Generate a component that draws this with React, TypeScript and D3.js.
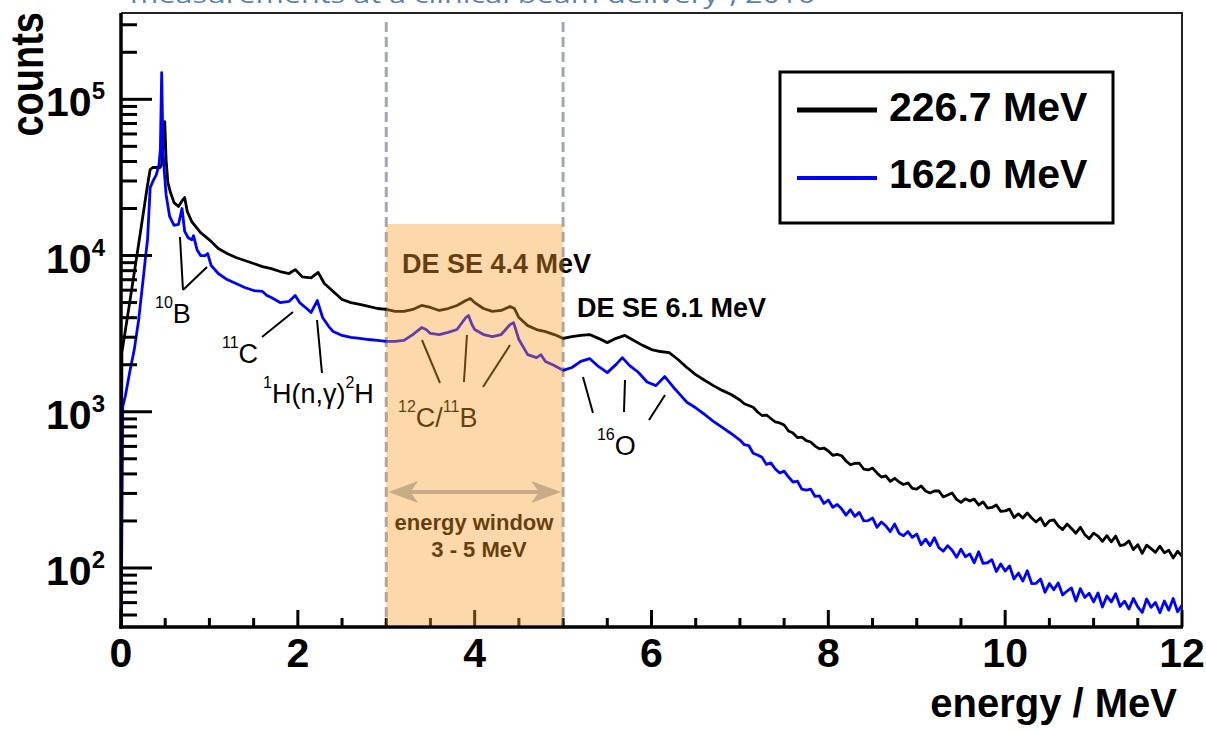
import React from 'react';
import * as d3 from 'd3';

const FONT = "'Liberation Sans', Arial, Helvetica, sans-serif";

// axis limits
const energyDomain: [number, number] = [0, 12];
const countsDomain: [number, number] = [41.9, 356800];

const xTickLabels = [0, 2, 4, 6, 8, 10, 12];
const yLabelExponents = [2, 3, 4, 5];

const seriesNames = ['226.7 MeV', '162.0 MeV'];
const seriesColors = ['#000000', '#0000ff'];

// [energy MeV, counts]
const spectrum2267: [number, number][] = [
  [0, 30], [0.01, 2390], [0.1, 5070], [0.2, 11900], [0.25, 18300], [0.28, 23800], [0.3, 28200],
  [0.33, 35500], [0.36, 36600], [0.4, 36600], [0.44, 36600], [0.46, 38200], [0.48, 55200],
  [0.495, 71900], [0.51, 41100], [0.53, 29300], [0.56, 25300], [0.6, 21800], [0.65, 20600],
  [0.7, 22800], [0.72, 23500], [0.75, 19100], [0.8, 16500], [0.9, 14000], [1.0, 12600],
  [1.1, 11100], [1.2, 10300], [1.3, 9710], [1.4, 9290], [1.5, 8890], [1.6, 8500], [1.7, 8250],
  [1.8, 7900], [1.9, 7670], [1.97, 8130], [2.05, 7300], [2.15, 7190], [2.23, 7790], [2.3, 6620],
  [2.4, 5880], [2.5, 5230], [2.6, 5000], [2.7, 4860], [2.8, 4720], [2.9, 4580], [3.0, 4520],
  [3.1, 4390], [3.2, 4390], [3.3, 4520], [3.4, 4790], [3.5, 4650], [3.6, 4450], [3.7, 4580],
  [3.8, 4790], [3.9, 5150], [3.95, 5310], [4.0, 5000], [4.1, 4580], [4.2, 4390], [4.3, 4450],
  [4.4, 4720], [4.45, 4580], [4.5, 4010], [4.6, 3560], [4.7, 3360], [4.8, 3260], [4.9, 3120],
  [5.0, 2950], [5.1, 3030], [5.2, 3080], [5.3, 3120], [5.4, 2950], [5.5, 2770], [5.6, 2950],
  [5.7, 3080], [5.8, 2860], [5.9, 2660], [6.0, 2500], [6.1, 2430], [6.2, 2390], [6.3, 2160],
  [6.4, 1920], [6.5, 1730], [6.6, 1590], [6.7, 1470], [6.8, 1370], [6.9, 1290],
  [7.0, 1189], [7.05, 1125], [7.1, 1096], [7.15, 1069], [7.2, 996], [7.25, 946], [7.3, 953],
  [7.35, 905], [7.4, 860], [7.45, 848], [7.5, 823], [7.55, 753], [7.6, 731], [7.65, 684],
  [7.7, 689], [7.75, 654], [7.8, 640], [7.85, 603], [7.9, 578], [7.95, 586], [8.0, 561],
  [8.05, 526], [8.1, 533], [8.15, 523], [8.2, 484], [8.25, 458], [8.3, 467], [8.35, 468],
  [8.4, 430], [8.45, 424], [8.5, 436], [8.55, 406], [8.6, 382], [8.65, 389], [8.7, 358],
  [8.75, 375], [8.8, 355], [8.85, 342], [8.9, 350], [8.95, 323], [9.0, 320], [9.05, 335],
  [9.1, 311], [9.15, 302], [9.2, 311], [9.25, 311], [9.3, 285], [9.35, 293], [9.4, 302],
  [9.45, 275], [9.5, 263], [9.55, 277], [9.6, 268], [9.65, 276], [9.7, 253], [9.75, 265],
  [9.8, 242], [9.85, 244], [9.9, 253], [9.95, 230], [10.0, 232], [10.05, 238], [10.1, 210],
  [10.15, 222], [10.2, 209], [10.25, 225], [10.3, 209], [10.35, 197], [10.4, 209], [10.45, 186],
  [10.5, 200], [10.55, 203], [10.6, 186], [10.65, 176], [10.7, 191], [10.75, 179], [10.8, 167],
  [10.85, 182], [10.9, 164], [10.95, 154], [11.0, 167], [11.05, 160], [11.1, 148], [11.15, 161],
  [11.2, 147], [11.25, 160], [11.3, 139], [11.35, 141], [11.4, 149], [11.45, 131], [11.5, 141],
  [11.55, 124], [11.6, 140], [11.65, 133], [11.7, 126], [11.75, 138], [11.8, 125], [11.85, 130],
  [11.9, 116], [11.95, 128], [12.0, 119],
];

const spectrum1620: [number, number][] = [
  [0, 30], [0.02, 1080], [0.05, 1270], [0.1, 1810], [0.15, 2500], [0.2, 3890], [0.25, 7020],
  [0.28, 10100], [0.3, 12600], [0.33, 27200], [0.36, 29800], [0.4, 33000], [0.43, 38200],
  [0.445, 47600], [0.46, 148000], [0.475, 47600], [0.49, 34400], [0.51, 24500], [0.55, 17800],
  [0.6, 15600], [0.65, 15800], [0.69, 20000], [0.72, 14300], [0.76, 13000], [0.8, 12600],
  [0.82, 13400], [0.86, 10900], [0.9, 10000], [0.95, 10000], [0.98, 10300], [1.02, 8630],
  [1.1, 7670], [1.2, 7020], [1.3, 6620], [1.4, 6240], [1.5, 5970], [1.6, 5890], [1.65, 5550],
  [1.7, 5380], [1.8, 5000], [1.9, 5080], [1.97, 5550], [2.02, 5000], [2.1, 4580], [2.15, 4320],
  [2.22, 5150], [2.28, 4010], [2.35, 3510], [2.4, 3260], [2.5, 3080], [2.6, 2990], [2.7, 2950],
  [2.8, 2900], [2.9, 2860], [3.0, 2820], [3.1, 2820], [3.2, 2860], [3.3, 3120], [3.4, 3460],
  [3.45, 3360], [3.5, 3170], [3.6, 3120], [3.7, 3220], [3.8, 3360], [3.9, 4010], [3.93, 4130],
  [3.97, 3610], [4.0, 3360], [4.1, 3120], [4.2, 3030], [4.3, 3120], [4.4, 3610], [4.44, 3720],
  [4.5, 2900], [4.6, 2320], [4.7, 2220], [4.75, 2320], [4.8, 2100], [4.9, 1980], [5.0, 1840],
  [5.1, 1920], [5.2, 2100], [5.3, 2190], [5.4, 1950], [5.5, 1780], [5.6, 2010], [5.67, 2220],
  [5.75, 1980], [5.85, 1790], [5.95, 1550], [6.05, 1470], [6.15, 1680], [6.25, 1430], [6.3, 1330],
  [6.4, 1150], [6.5, 1060], [6.6, 962], [6.7, 869], [6.8, 794], [6.9, 726],
  [7.0, 659], [7.05, 615], [7.1, 608], [7.15, 542], [7.2, 529], [7.25, 511], [7.3, 460],
  [7.35, 471], [7.4, 430], [7.45, 405], [7.5, 417], [7.55, 382], [7.6, 355], [7.65, 360],
  [7.7, 320], [7.75, 315], [7.8, 320], [7.85, 287], [7.9, 289], [7.95, 259], [8.0, 272],
  [8.05, 245], [8.1, 255], [8.15, 239], [8.2, 218], [8.25, 236], [8.3, 214], [8.35, 227],
  [8.4, 200], [8.45, 201], [8.5, 209], [8.55, 182], [8.6, 197], [8.65, 186], [8.7, 171],
  [8.75, 191], [8.8, 167], [8.85, 161], [8.9, 171], [8.95, 157], [9.0, 165], [9.05, 141],
  [9.1, 153], [9.15, 139], [9.2, 156], [9.25, 135], [9.3, 128], [9.35, 139], [9.4, 130],
  [9.45, 117], [9.5, 132], [9.55, 118], [9.6, 123], [9.65, 108], [9.7, 127], [9.75, 107],
  [9.8, 108], [9.85, 113], [9.9, 94.9], [9.95, 106], [10.0, 95.6], [10.05, 103], [10.1, 85.0],
  [10.15, 92.9], [10.2, 82.5], [10.25, 96.0], [10.3, 79.5], [10.35, 79.8], [10.4, 85.1],
  [10.45, 69.9], [10.5, 79.5], [10.55, 72.5], [10.6, 80.2], [10.65, 67.2], [10.7, 71.2],
  [10.75, 74.5], [10.8, 61.5], [10.85, 73.7], [10.9, 64.8], [10.95, 68.9], [11.0, 60.6],
  [11.05, 69.2], [11.1, 56.2], [11.15, 66.1], [11.2, 60.6], [11.25, 68.4], [11.3, 56.7],
  [11.35, 61.3], [11.4, 54.6], [11.45, 63.8], [11.5, 56.3], [11.55, 51.9], [11.6, 63.3],
  [11.65, 56.0], [11.7, 60.1], [11.75, 51.7], [11.8, 61.5], [11.85, 53.7], [11.9, 63.8],
  [11.95, 52.5], [12.0, 58.0],
];

// energy window and markers (MeV)
const windowRange: [number, number] = [3, 5];
const windowTopCounts = 15910;
const dashedTopCounts = 312500;
const arrowCounts = 306;

// leader lines: [[E1, c1], [E2, c2]]
const leaders: [[number, number], [number, number]][] = [
  [[0.667, 13140], [0.701, 6018]],
  [[0.973, 8445], [0.701, 6018]],
  [[1.595, 3009], [1.945, 4350]],
  [[2.217, 3866], [2.273, 1770]],
  [[3.404, 2879], [3.608, 1528]],
  [[3.913, 3099], [3.879, 1550]],
  [[4.4, 2674], [4.094, 1440]],
  [[5.225, 1669], [5.338, 982]],
  [[5.7, 1597], [5.689, 996]],
  [[6.153, 1280], [5.972, 885]],
];

// isotope labels: parts [text, isSup]
const isoLabels: { e: number; c: number; parts: [string, boolean][] }[] = [
  { e: 0.385, c: 3698, parts: [['10', true], ['B', false]] },
  { e: 1.142, c: 2051, parts: [['11', true], ['C', false]] },
  { e: 1.606, c: 1138, parts: [['1', true], ['H(n,γ)', false], ['2', true], ['H', false]] },
  { e: 3.133, c: 799, parts: [['12', true], ['C/', false], ['11', true], ['B', false]] },
  { e: 5.383, c: 529, parts: [['16', true], ['O', false]] },
];

const boldLabels: { e: number; c: number; text: string; anchor: string; size: number }[] = [
  { e: 3.178, c: 7730, text: 'DE SE 4.4 MeV', anchor: 'start', size: 27 },
  { e: 5.157, c: 4041, text: 'DE SE 6.1 MeV', anchor: 'start', size: 27 },
  { e: 3.992, c: 175, text: 'energy window', anchor: 'middle', size: 22 },
  { e: 4.049, c: 118, text: '3 - 5 MeV', anchor: 'middle', size: 22 },
];

export default function App() {
  const left = 121, right = 1182, top = 13, bottom = 627;
  const x = d3.scaleLinear().domain(energyDomain).range([left, right]);
  const y = d3.scaleLog().domain(countsDomain).range([bottom, top]);
  const line = d3.line<[number, number]>().x(d => x(d[0])).y(d => y(d[1]));

  const yTicks = y.ticks();
  const xMinor = x.ticks(24);
  const isMajorY = (v: number) => Math.abs(Math.log10(v) - Math.round(Math.log10(v))) < 1e-9;

  const wx0 = x(windowRange[0]);
  const wx1 = x(windowRange[1]);
  const ay = y(arrowCounts);
  const arrowColor = '#a3b4c6';

  return (
    <svg width={1206} height={730} style={{ position: 'absolute', left: 0, top: 0, background: '#fff' }}
      fontFamily={FONT}>
      <defs>
        <clipPath id="plotClip">
          <rect x={left} y={top} width={right - left} height={bottom - top} />
        </clipPath>
      </defs>
      <rect x={0} y={0} width={1206} height={730} fill="#fff" />

      {/* cut caption */}
      <text x={130} y={3} fontFamily="'Open Sans', sans-serif" fontSize={24} fill="#5d7fae"
        textLength={685} lengthAdjust="spacingAndGlyphs">
        measurements at a clinical beam delivery”, 2016
      </text>

      {/* dashed window borders */}
      {windowRange.map(e => (
        <line key={e} x1={x(e)} x2={x(e)} y1={y(dashedTopCounts)} y2={bottom}
          stroke="#9fa8b2" strokeWidth={3} strokeDasharray="10,5" />
      ))}

      {/* spectra */}
      <g clipPath="url(#plotClip)" fill="none" strokeLinejoin="round">
        <path d={line(spectrum2267) || ''} stroke={seriesColors[0]} strokeWidth={2.8} />
        <path d={line(spectrum1620) || ''} stroke={seriesColors[1]} strokeWidth={2.8} />
      </g>

      {/* leader lines */}
      {leaders.map((l, i) => (
        <line key={i} x1={x(l[0][0])} y1={y(l[0][1])} x2={x(l[1][0])} y2={y(l[1][1])}
          stroke="#000" strokeWidth={2} />
      ))}

      {/* isotope labels */}
      {isoLabels.map((lab, i) => (
        <text key={i} x={x(lab.e)} y={y(lab.c)} fontSize={27} fill="#000">
          {lab.parts.map((p, j) => {
            const prevSup = j > 0 && lab.parts[j - 1][1];
            const dy = p[1] ? (prevSup ? 0 : -15) : (prevSup ? 15 : 0);
            return (
              <tspan key={j} dy={dy} fontSize={p[1] ? 16 : 27}>{p[0]}</tspan>
            );
          })}
        </text>
      ))}

      {/* energy window arrow */}
      <line x1={wx0 + 12} x2={wx1 - 12} y1={ay} y2={ay} stroke={arrowColor} strokeWidth={4} />
      <path d={`M${wx0 + 2},${ay} L${wx0 + 32},${ay - 11} L${wx0 + 24},${ay} L${wx0 + 32},${ay + 11} Z`} fill={arrowColor} />
      <path d={`M${wx1 - 2},${ay} L${wx1 - 32},${ay - 11} L${wx1 - 24},${ay} L${wx1 - 32},${ay + 11} Z`} fill={arrowColor} />

      {/* bold annotations */}
      {boldLabels.map((b, i) => (
        <text key={i} x={x(b.e)} y={y(b.c)} fontSize={b.size} fontWeight="bold" textAnchor={b.anchor} fill="#000">
          {b.text}
        </text>
      ))}

      {/* legend */}
      <rect x={780} y={72} width={333} height={151} fill="#fff" stroke="#000" strokeWidth={3} />
      {seriesNames.map((n, i) => (
        <g key={n}>
          <line x1={797} x2={877} y1={110 + i * 68} y2={110 + i * 68} stroke={seriesColors[i]} strokeWidth={i === 0 ? 5 : 4} />
          <text x={889} y={121 + i * 67} fontSize={41} fontWeight="bold" fill="#000">{n}</text>
        </g>
      ))}

      {/* frame top/right */}
      <line x1={left} x2={right + 1} y1={top} y2={top} stroke="#222" strokeWidth={2} />
      <line x1={right} x2={right} y1={top} y2={bottom} stroke="#222" strokeWidth={2} />

      {/* y ticks */}
      {yTicks.map((v, i) => (
        <line key={i} x1={left} x2={left + (isMajorY(v) ? 31 : 16)} y1={y(v)} y2={y(v)} stroke="#000" strokeWidth={3} />
      ))}
      {/* x ticks */}
      {xMinor.map((v, i) => {
        const major = Math.abs(v / 2 - Math.round(v / 2)) < 1e-9;
        return <line key={i} x1={x(v)} x2={x(v)} y1={bottom} y2={bottom - (major ? 17 : 9)} stroke="#000" strokeWidth={3} />;
      })}

      {/* axes */}
      <line x1={left} x2={left} y1={top} y2={bottom + 1.75} stroke="#000" strokeWidth={3.5} />
      <line x1={left - 1.75} x2={right + 1} y1={bottom} y2={bottom} stroke="#000" strokeWidth={3.5} />

      {/* energy window overlay */}
      <rect x={wx0} y={y(windowTopCounts)} width={wx1 - wx0} height={bottom - 1.75 - y(windowTopCounts)}
        fill="rgb(247,157,43)" fillOpacity={0.4} />

      {/* tick labels */}
      {yLabelExponents.map(e => (
        <text key={e} x={105} y={y(Math.pow(10, e)) + 17} textAnchor="end" fontSize={41} fontWeight="bold" fill="#000">
          10<tspan dy={-17} fontSize={24}>{e}</tspan>
        </text>
      ))}
      {xTickLabels.map(v => (
        <text key={v} x={x(v)} y={667} textAnchor="middle" fontSize={41} fontWeight="bold" fill="#000">{v}</text>
      ))}

      {/* axis titles */}
      <text x={1177} y={717} textAnchor="end" fontSize={40} fontWeight="bold" fill="#000">energy / MeV</text>
      <text transform="translate(43,12) rotate(-90) scale(1,1.22)" textAnchor="end" fontSize={38} fontWeight="bold" fill="#000">counts</text>
    </svg>
  );
}
